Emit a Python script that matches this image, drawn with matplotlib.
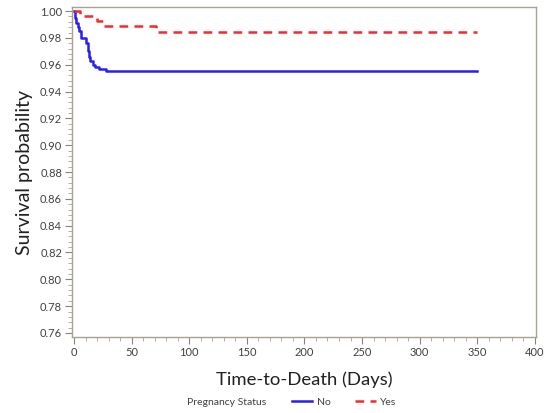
import matplotlib
matplotlib.use("Agg")
import matplotlib.pyplot as plt
from matplotlib.ticker import MultipleLocator

plt.rcParams['font.family'] = ['Lato', 'DejaVu Sans']

# Data (Kaplan-Meier step curves)
no_times = [0, 1, 2, 3, 4, 6, 10, 12, 13, 14, 16, 18, 22, 28, 350]
no_surv = [1.0, 0.995, 0.991, 0.988, 0.985, 0.980, 0.9765, 0.970, 0.966, 0.9626, 0.960, 0.958, 0.957, 0.955, 0.955]
yes_times = [0, 5, 20, 25, 71, 350]
yes_surv = [1.0, 0.9963, 0.9927, 0.9888, 0.9846, 0.9846]

series_labels = ["No", "Yes"]
legend_title = "Pregnancy Status"
xlabel = "Time-to-Death (Days)"
ylabel = "Survival probability"

fig = plt.figure(figsize=(5.48, 4.13), dpi=100)
ax = fig.add_axes([0.131, 0.184, 0.847, 0.799])

l1, = ax.step(no_times, no_surv, where='post', color='#2a1df0', lw=1.8, label=series_labels[0])
l2, = ax.step(yes_times, yes_surv, where='post', color='#f52a2a', lw=1.8, ls=(0, (3.5, 2.5)), label=series_labels[1])

ax.set_xlim(-2, 401)
ax.set_ylim(0.757, 1.003)
ax.xaxis.set_major_locator(MultipleLocator(50))
ax.xaxis.set_minor_locator(MultipleLocator(10))
ax.yaxis.set_major_locator(MultipleLocator(0.02))
ax.yaxis.set_minor_locator(MultipleLocator(0.004))
ax.yaxis.set_major_formatter(plt.FuncFormatter(lambda v, p: f"{v:.2f}"))

for s in ax.spines.values():
    s.set_color('#a8a294')
    s.set_linewidth(1.0)
ax.tick_params(axis='both', which='major', length=5, color='#8a8474', labelsize=8, labelcolor='#404040', pad=2)
ax.tick_params(axis='both', which='minor', length=3, color='#a8a294')

ax.set_xlabel(xlabel, fontsize=13.3, color='#202020', labelpad=10)
ax.set_ylabel(ylabel, fontsize=14, color='#202020', labelpad=5)

fig.text(0.485, 0.025, legend_title, fontsize=7.5, color='#404040', ha='right', va='center')
fig.legend(handles=[l1, l2], labels=series_labels, loc='center left', bbox_to_anchor=(0.515, 0.026),
           ncol=2, frameon=False, fontsize=7.5, handlelength=2.0, columnspacing=2.4, handletextpad=0.4,
           labelcolor='#404040')

fig.savefig('out.png', dpi=100)
